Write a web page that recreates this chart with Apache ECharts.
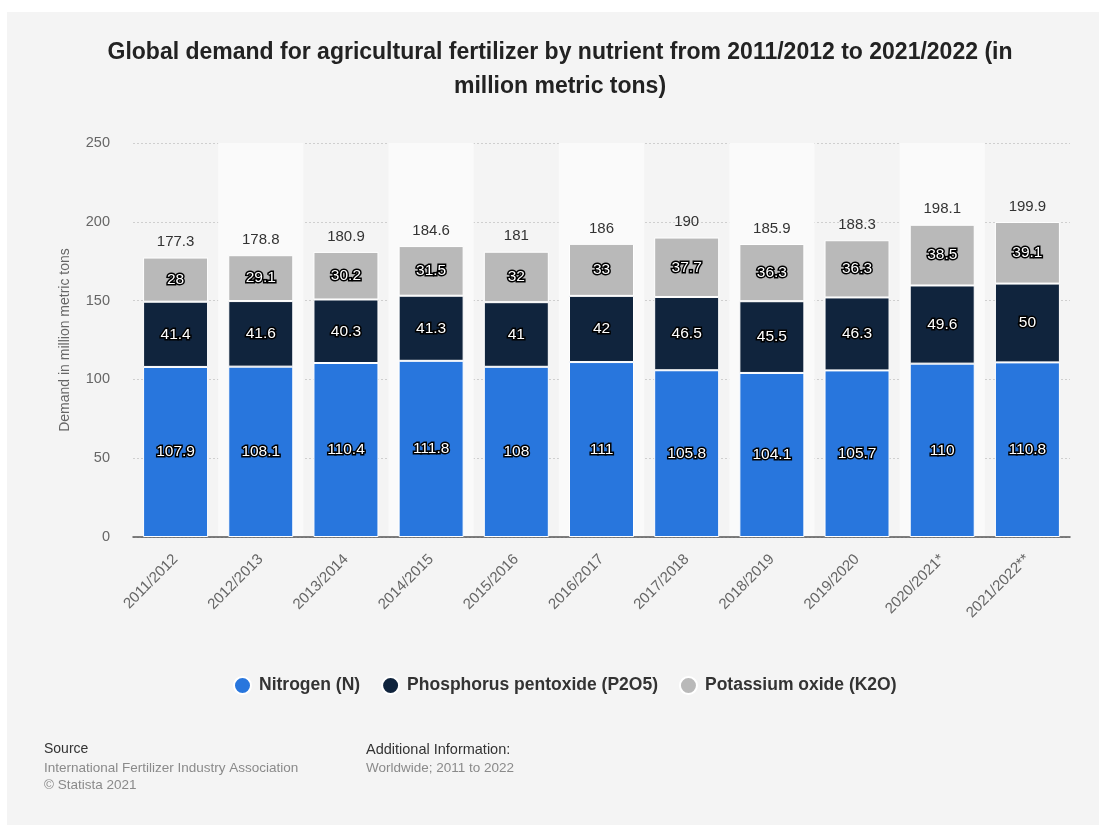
<!DOCTYPE html>
<html>
<head>
<meta charset="utf-8">
<script src="https://cdn.jsdelivr.net/npm/echarts@6/dist/echarts.min.js"></script>
<style>
  html, body { margin: 0; padding: 0; background: #ffffff; }
  #chart { width: 1101px; height: 825px; }
</style>
</head>
<body>
<div id="chart"></div>
<script>
// Fertilizer demand by nutrient, million metric tons
const categories = ['2011/2012', '2012/2013', '2013/2014', '2014/2015', '2015/2016', '2016/2017',
  '2017/2018', '2018/2019', '2019/2020', '2020/2021*', '2021/2022**'];
const nitrogen = [107.9, 108.1, 110.4, 111.8, 108, 111, 105.8, 104.1, 105.7, 110, 110.8];
const phosphorus = [41.4, 41.6, 40.3, 41.3, 41, 42, 46.5, 45.5, 46.3, 49.6, 50];
const potassium = [28, 29.1, 30.2, 31.5, 32, 33, 37.7, 36.3, 36.3, 38.5, 39.1];
const totals = [177.3, 178.8, 180.9, 184.6, 181, 186, 190, 185.9, 188.3, 198.1, 199.9];
const yTicks = [0, 50, 100, 150, 200, 250];

const FONT = '"Liberation Sans", Arial, Helvetica, sans-serif';

const insideLabel = {
  show: true,
  position: 'inside',
  color: '#ffffff',
  fontFamily: FONT,
  fontSize: 15.5,
  textBorderColor: '#000000',
  textBorderWidth: 3
};

const chart = echarts.init(document.getElementById('chart'), null, { renderer: 'canvas' });

chart.setOption({
  animation: false,
  backgroundColor: '#ffffff',
  graphic: [
    {
      type: 'rect',
      z: -10,
      silent: true,
      shape: { x: 7, y: 12, width: 1092, height: 813 },
      style: { fill: '#f4f4f4' }
    },
    {
      type: 'text', x: 560, y: 53,
      style: {
        text: 'Global demand for agricultural fertilizer by nutrient from 2011/2012 to 2021/2022 (in',
        fill: '#222222', font: 'bold 23px ' + FONT, align: 'center', verticalAlign: 'middle'
      }
    },
    {
      type: 'text', x: 560, y: 87,
      style: {
        text: 'million metric tons)',
        fill: '#222222', font: 'bold 23px ' + FONT, align: 'center', verticalAlign: 'middle'
      }
    },
    {
      type: 'text', left: 44, top: 742,
      style: { text: 'Source', fill: '#333333', font: '14px ' + FONT }
    },
    {
      type: 'text', left: 44, top: 761,
      style: { text: 'International Fertilizer Industry Association', fill: '#8a8a8a', font: '13.5px ' + FONT }
    },
    {
      type: 'text', left: 44, top: 778,
      style: { text: '\u00A9 Statista 2021', fill: '#8a8a8a', font: '13.5px ' + FONT }
    },
    {
      type: 'text', left: 366, top: 742,
      style: { text: 'Additional Information:', fill: '#333333', font: '14.5px ' + FONT }
    },
    {
      type: 'text', left: 366, top: 761,
      style: { text: 'Worldwide; 2011 to 2022', fill: '#8a8a8a', font: '13.5px ' + FONT }
    }
  ],
  legend: {
    data: ['Nitrogen (N)', 'Phosphorus pentoxide (P2O5)', 'Potassium oxide (K2O)'],
    top: 671,
    left: 228,
    icon: 'circle',
    itemWidth: 17,
    itemHeight: 17,
    itemGap: 21,
    textStyle: { fontFamily: FONT, fontSize: 17.5, fontWeight: 'bold', color: '#333333', padding: [0, 0, 0, 3] }
  },
  grid: { left: 133, right: 31, top: 143, bottom: 288, containLabel: false },
  xAxis: {
    type: 'category',
    data: categories,
    axisLine: { show: true, lineStyle: { color: '#555555', width: 1.5 } },
    axisTick: { show: false },
    axisLabel: {
      rotate: 45,
      color: '#666666',
      fontFamily: FONT,
      fontSize: 15,
      margin: 20,
      interval: 0
    },
    splitArea: {
      show: true,
      areaStyle: { color: ['rgba(255,255,255,0)', '#fafafa'] }
    }
  },
  yAxis: {
    type: 'value',
    min: yTicks[0],
    max: yTicks[yTicks.length - 1],
    interval: 50,
    name: 'Demand in million metric tons',
    nameLocation: 'middle',
    nameGap: 61,
    nameTextStyle: { color: '#666666', fontFamily: FONT, fontSize: 14 },
    axisLine: { show: false },
    axisTick: { show: false },
    axisLabel: { color: '#666666', fontFamily: FONT, fontSize: 14.5, margin: 23 },
    splitLine: { show: true, lineStyle: { color: '#cfcfcf', type: [2, 2], width: 1 } }
  },
  series: [
    {
      name: 'Nitrogen (N)',
      type: 'bar',
      stack: 'total',
      data: nitrogen,
      barWidth: 65,
      itemStyle: { color: '#2876dd', borderColor: '#ffffff', borderWidth: 1 },
      label: insideLabel,
      z: 3
    },
    {
      name: 'Phosphorus pentoxide (P2O5)',
      type: 'bar',
      stack: 'total',
      data: phosphorus,
      barWidth: 65,
      itemStyle: { color: '#10243d', borderColor: '#ffffff', borderWidth: 1 },
      label: insideLabel,
      z: 3
    },
    {
      name: 'Potassium oxide (K2O)',
      type: 'bar',
      stack: 'total',
      data: potassium,
      barWidth: 65,
      itemStyle: { color: '#b9b9b9', borderColor: '#ffffff', borderWidth: 1 },
      label: insideLabel,
      z: 3
    },
    {
      name: 'Total',
      type: 'bar',
      stack: 'total',
      data: totals.map(() => 0),
      barWidth: 65,
      itemStyle: { color: 'rgba(0,0,0,0)' },
      label: {
        show: true,
        position: 'top',
        distance: 8,
        color: '#333333',
        fontFamily: FONT,
        fontSize: 15,
        formatter: (p) => String(totals[p.dataIndex])
      },
      z: 4
    }
  ]
});
</script>
</body>
</html>
